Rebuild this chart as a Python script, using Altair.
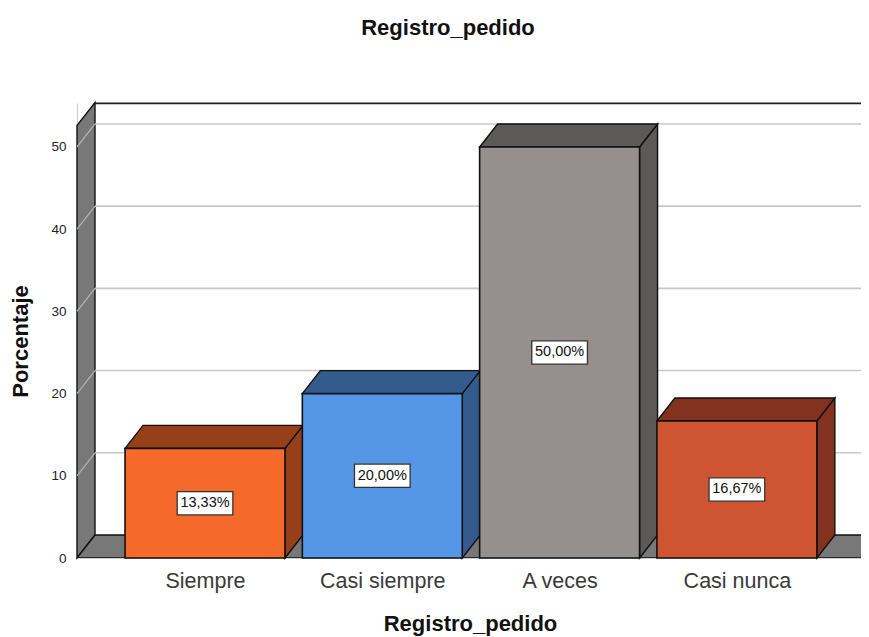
import altair as alt
import pandas as pd

categories = ["Siempre", "Casi siempre", "A veces", "Casi nunca"]
values = [13.33, 20.00, 50.00, 16.67]
labels = ["13,33%", "20,00%", "50,00%", "16,67%"]
front_colors = ["#F56A2B", "#5596E6", "#958F8D", "#CF5431"]
side_colors = ["#964019", "#335B8D", "#5C5A58", "#833220"]
grid_values = [0, 10, 20, 30, 40, 50]

FONT = "Liberation Sans"
XMIN, XMAX = -0.722, 3.70
YMAX = 55.35
DX, DY = 0.1015, 2.8      # depth of the 3D projection in data units
HALF = 0.451              # half bar width
WALL = 52.6
FLOOR_END = 3.722
WALL_COLOR = "#787878"

label_expr = "[" + ",".join(f"'{c}'" for c in categories) + "][datum.value]"
x_axis = alt.Axis(
    values=[0, 1, 2, 3], labelExpr=label_expr, grid=False, domain=True, domainColor="#CFCFCF",
    domainWidth=1.2, ticks=False, labelFont=FONT, labelFontSize=21.5, labelColor="#3A3A3A",
    labelPadding=12, labelFlush=False, titleFont=FONT, titleFontSize=22,
    titleFontWeight="bold", titleColor="#111111", titlePadding=22, titleX=393)
y_axis = alt.Axis(
    values=grid_values, format="d", grid=False, domain=True, domainColor="#CFCFCF",
    domainWidth=1.2, ticks=False, labelFont=FONT, labelFontSize=13.5, labelColor="#222222",
    labelPadding=11, titleFont=FONT, titleFontSize=22, titleFontWeight="bold",
    titleColor="#111111", titlePadding=18, titleY=238)

xs = alt.Scale(domain=[XMIN, XMAX], nice=False, zero=False)
ys = alt.Scale(domain=[0, YMAX], nice=False, zero=False)
X = alt.X("x:Q", scale=xs, axis=x_axis, title="Registro_pedido")
Y = alt.Y("y:Q", scale=ys, axis=y_axis, title="Porcentaje")


def area(rows, fill, stroke="#111111", width=1.4, clip=False):
    df = pd.DataFrame(rows, columns=["x", "y", "y2"])
    return alt.Chart(df).mark_area(
        color=fill, fill=fill, stroke=stroke, strokeWidth=width, opacity=1,
        clip=clip, interpolate="linear"
    ).encode(x=X, y=Y, y2="y2:Q")


layers = []

# left wall and floor
layers.append(area([[XMIN, 0, WALL], [XMIN + DX, DY, WALL + DY]], WALL_COLOR))
layers.append(area([[XMIN, 0, 0], [XMIN + DX, DY, 0], [FLOOR_END, DY, 0],
                    [FLOOR_END + DX, DY, DY]], WALL_COLOR, clip=True))

# back wall top edge
top_df = pd.DataFrame({"x": [XMIN + DX], "x2": [XMAX], "y": [YMAX - 0.05]})
layers.append(alt.Chart(top_df).mark_rule(color="#222222", strokeWidth=1.6).encode(
    x=X, x2="x2:Q", y=Y))

# gridlines: across the back wall and slanted on the side wall
grid_df = pd.DataFrame({"x": XMIN + DX, "x2": XMAX, "y": [v + DY for v in grid_values[1:]]})
layers.append(alt.Chart(grid_df).mark_rule(color="#C8C8C8", strokeWidth=1.6).encode(
    x=X, x2="x2:Q", y=Y))
slant_rows = []
for v in grid_values[1:]:
    slant_rows += [{"x": XMIN, "y": v, "g": v}, {"x": XMIN + DX, "y": v + DY, "g": v}]
layers.append(alt.Chart(pd.DataFrame(slant_rows)).mark_line(
    color="#B4B4B4", strokeWidth=1.2).encode(x=X, y=Y, detail="g:N"))

# bars
for i, v in enumerate(values):
    x0, x1 = i - HALF, i + HALF
    layers.append(area([[x1, 0, v], [x1 + DX, DY, v + DY]], side_colors[i]))
    layers.append(area([[x0, v, v], [x0 + DX, v + DY, v], [x1, v + DY, v],
                        [x1 + DX, v + DY, v + DY]], side_colors[i]))

bars = pd.DataFrame({
    "x": [i - HALF for i in range(4)],
    "x2": [i + HALF for i in range(4)],
    "y": values,
    "y2": 0.0,
    "c": front_colors,
})
layers.append(alt.Chart(bars).mark_rect(stroke="#111111", strokeWidth=1.6).encode(
    x=X, x2="x2:Q", y=Y, y2="y2:Q", fill=alt.Fill("c:N", scale=None)))

# value labels
lab = pd.DataFrame({
    "x0": list(range(4)),
    "y0": [v / 2 for v in values],
    "t": labels,
})
lab["x"] = lab.x0 - 0.157
lab["x2"] = lab.x0 + 0.157
lab["y"] = lab.y0 - 1.42
lab["y2"] = lab.y0 + 1.42
layers.append(alt.Chart(lab).mark_rect(fill="white", stroke="#333333", strokeWidth=1.3).encode(
    x=X, x2="x2:Q", y=Y, y2="y2:Q"))
layers.append(alt.Chart(lab).mark_text(font=FONT, fontSize=14.5, color="#111111",
                                       align="center", baseline="middle").encode(
    x=alt.X("x0:Q", scale=xs, axis=x_axis, title="Registro_pedido"),
    y=alt.Y("y0:Q", scale=ys, axis=y_axis, title="Porcentaje"), text="t:N"))

chart = alt.layer(*layers).properties(
    width=784,
    height=455,
    background="white",
    padding={"left": 69, "top": 95, "right": 0, "bottom": 78},
    autosize=alt.AutoSizeParams(type="none"),
    title=alt.TitleParams("Registro_pedido", font=FONT, fontSize=22, fontWeight="bold",
                          color="#111111", anchor="middle", dx=-21, offset=60),
).resolve_scale(x="shared", y="shared").configure_view(strokeWidth=0)

chart.save("out.html", embed_options={"renderer": "svg", "actions": False})
